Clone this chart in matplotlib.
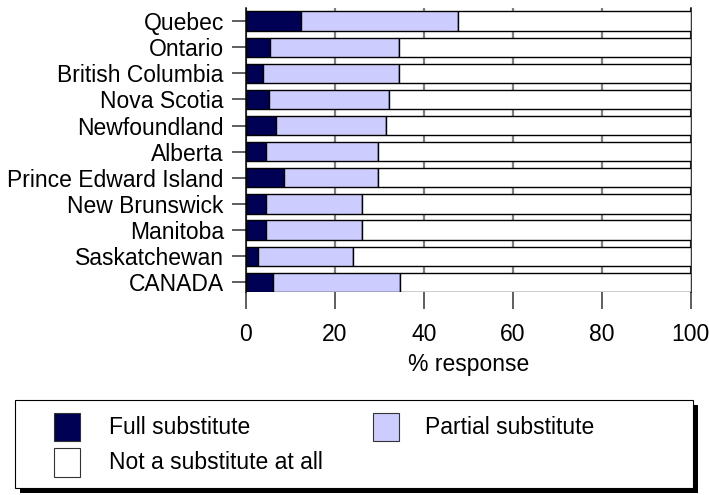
import matplotlib
matplotlib.use("Agg")
import matplotlib.pyplot as plt
from matplotlib.patches import Rectangle
import numpy as np

plt.rcParams['font.family'] = ['Liberation Sans', 'DejaVu Sans']

provinces = ["Quebec", "Ontario", "British Columbia", "Nova Scotia", "Newfoundland",
             "Alberta", "Prince Edward Island", "New Brunswick", "Manitoba",
             "Saskatchewan", "CANADA"]
full_sub = [12.3, 5.3, 3.8, 5.2, 6.8, 4.6, 8.6, 4.5, 4.5, 2.6, 6.0]
partial_sub = [35.3, 29.1, 30.6, 27.0, 24.8, 25.2, 21.0, 21.7, 21.5, 21.4, 28.6]
not_sub = [52.4, 65.6, 65.6, 67.8, 68.4, 70.2, 70.4, 73.8, 74.0, 76.0, 65.4]
series_names = ["Full substitute", "Partial substitute", "Not a substitute at all"]
series_colors = ["#000055", "#ccccff", "#ffffff"]
x_ticks = [0, 20, 40, 60, 80, 100]

FS = 16.5
W, H = 709, 495
fig = plt.figure(figsize=(W / 100, H / 100), dpi=100)
ax = fig.add_axes([246 / W, 1 - 292 / H, (690.5 - 246) / W, 284 / H])

y = np.arange(len(provinces))[::-1]
bar_h = 0.74
left = np.zeros(len(provinces))
for vals, color, name in zip([full_sub, partial_sub, not_sub], series_colors, series_names):
    ax.barh(y, vals, left=left, height=bar_h, color=color, edgecolor="black",
            linewidth=1.0, label=name, zorder=3)
    left = left + np.array(vals)

ax.set_xlim(0, 100)
ax.set_ylim(-bar_h / 2, len(provinces) - 1 + bar_h / 2 + 0.13)
ax.set_xticks(x_ticks)
ax.set_yticks(y)
ax.set_yticklabels(provinces, fontsize=FS)
ax.tick_params(axis='x', labelsize=FS, length=12, width=1.1, color="#333333", pad=10)
ax.tick_params(axis='y', length=10, width=1.1, color="#333333", pad=6)
ax.set_xlabel("% response", fontsize=FS, labelpad=5)

ax.grid(axis='x', color="#808080", linewidth=1.6, zorder=0)
ax.set_axisbelow(True)
ax.spines["top"].set_visible(False)
ax.spines["bottom"].set_visible(False)
ax.spines["left"].set_linewidth(1.1)
ax.spines["right"].set_linewidth(1.1)


# Legend box with a solid drop shadow, laid out in pixel units
def fx(px):
    return px / W


def fy(py):
    return 1 - py / H


bx0, by0, bx1, by1 = 15, 400, 693, 488
fig.add_artist(Rectangle((fx(bx0 + 5), fy(by1 + 5)), fx(bx1 - bx0), (by1 - by0) / H,
                         transform=fig.transFigure, facecolor="black", edgecolor="none"))
fig.add_artist(Rectangle((fx(bx0), fy(by1)), fx(bx1 - bx0), (by1 - by0) / H,
                         transform=fig.transFigure, facecolor="white", edgecolor="black",
                         linewidth=0.8))

entries = [(54, 413, 441, 109, 0), (373, 413, 441, 425, 1), (54, 448, 477, 109, 2)]
for px, top, bot, tx, idx in entries:
    fig.add_artist(Rectangle((fx(px), fy(bot)), fx(26), (bot - top) / H,
                             transform=fig.transFigure, facecolor=series_colors[idx],
                             edgecolor="#333333", linewidth=0.8))
    fig.text(fx(tx), fy((top + bot) / 2), series_names[idx], fontsize=FS,
             va="center", ha="left")

fig.savefig("out.png", dpi=100)
